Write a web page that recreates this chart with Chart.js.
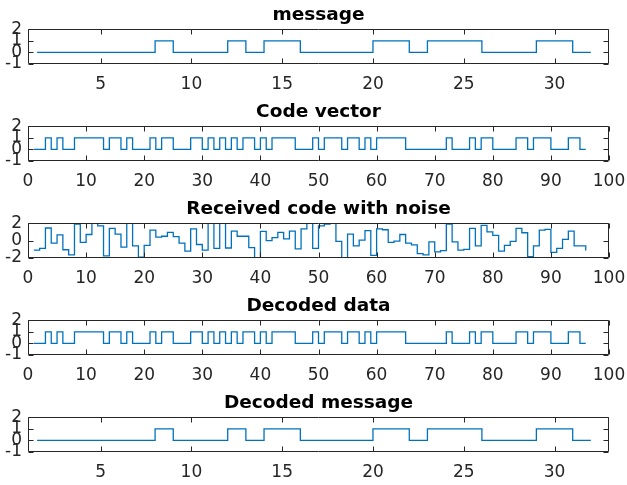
<!DOCTYPE html>
<html>
<head>
<meta charset="utf-8">
<script src="https://cdn.jsdelivr.net/npm/chart.js@4.4.1/dist/chart.umd.min.js"></script>
<style>
  body { margin: 0; background: #fff; }
  #wrap { position: relative; width: 627px; height: 485px; }
  #wrap canvas { position: absolute; left: 0; }
</style>
</head>
<body>
<div id="wrap">
  <canvas id="c0" width="627" height="97" style="top:0px"></canvas>
  <canvas id="c1" width="627" height="97" style="top:97px"></canvas>
  <canvas id="c2" width="627" height="97" style="top:194px"></canvas>
  <canvas id="c3" width="627" height="97" style="top:291px"></canvas>
  <canvas id="c4" width="627" height="97" style="top:388px"></canvas>
</div>
<script>
// message bits (stairs), x positions
const messageX = [1.5,2,3,4,5,6,7,8,9,10,11,12,13,14,15,16,17,18,19,20,21,22,23,24,25,26,27,28,29,30,31,32];
const messageBits = [0,0,0,0,0,0,0,1,0,0,0,1,0,1,1,0,0,0,0,1,1,0,1,1,1,0,0,0,1,1,0,0];

// code vector, 96 samples at x = 1..96
const codeBits = [0,0,1,0,1,0,0,1,1,1,1,1,0,1,1,0,1,0,0,0,1,0,1,1,0,0,0,1,1,0,1,0,
                  1,0,1,0,1,1,0,1,0,1,1,1,1,0,0,0,1,0,1,1,1,0,1,1,0,1,0,1,1,1,1,1,
                  0,0,0,0,0,0,0,1,0,0,0,1,0,1,1,0,0,0,0,1,1,0,1,1,1,0,0,0,1,1,0,0];

// received (noisy) code, values outside +-2 get clipped by the axes
const received = [-1.1,-0.9,1.45,-0.3,0.65,-1.05,-1.65,1.9,-0.2,0.7,2.6,1.7,-1.75,1.4,0.75,-0.75,
                  2.6,-0.6,-1.9,-0.55,1.2,0.4,0.5,0.95,0.45,-0.3,-1.2,1.35,-0.45,-1.1,2.6,-0.9,
                  2.6,-0.85,1.1,0.5,0.5,-0.8,-2.6,1.05,0.0,0.35,0.95,0.2,1.1,-0.95,1.35,2.6,
                  -0.9,1.7,1.9,2.2,-0.1,-2.6,0.75,-0.6,0.05,1.15,-1.7,1.35,1.25,-0.2,-0.05,0.7,
                  -0.3,-0.5,-1.5,-1.65,-0.15,-1.3,-1.15,1.9,-0.15,-1.1,-1.0,1.4,-0.6,1.75,1.0,0.6,
                  -1.2,-0.55,-0.1,1.4,0.9,-1.85,-0.6,1.2,1.3,-1.35,-0.9,0.15,1.1,-0.6,-0.6,-1.15];

// decoded output
const decodedBits = codeBits.slice();
const decodedMessage = messageBits.slice();

// tick labels
const msgXTicks = [5,10,15,20,25,30];
const codeXTicks = [0,10,20,30,40,50,60,70,80,90,100];
const bitYTicks = [-1,0,1,2];
const noiseYTicks = [-2,0,2];

const FONT = 'DejaVu Sans';
const AXCOL = '#262626';

// MATLAB style box with inward ticks
const boxPlugin = {
  id: 'matlabBox',
  afterDraw(chart) {
    const ctx = chart.ctx, a = chart.chartArea;
    const xs = chart.scales.x, ys = chart.scales.y;
    const L = Math.round(a.left) + 0.5, R = Math.round(a.right) - 0.5;
    const T = Math.round(a.top) + 0.5, B = Math.round(a.bottom) - 0.5;
    const tl = 5;
    ctx.save();
    ctx.strokeStyle = AXCOL;
    ctx.lineWidth = 1;
    ctx.beginPath();
    ctx.rect(L, T, R - L, B - T);
    xs.ticks.forEach(t => {
      const px = Math.round(xs.getPixelForValue(t.value)) + 0.5;
      ctx.moveTo(px, B); ctx.lineTo(px, B - tl);
      ctx.moveTo(px, T); ctx.lineTo(px, T + tl);
    });
    ys.ticks.forEach(t => {
      const py = Math.round(ys.getPixelForValue(t.value)) + 0.5;
      ctx.moveTo(L, py); ctx.lineTo(L + tl, py);
      ctx.moveTo(R, py); ctx.lineTo(R - tl, py);
    });
    ctx.stroke();
    ctx.restore();
  }
};

function makePlot(id, title, xs, ys, xMin, xMax, xTicks, yMin, yMax, yTicks) {
  const pts = ys.map((v, i) => ({ x: xs[i], y: v }));
  return new Chart(document.getElementById(id), {
    type: 'line',
    data: {
      datasets: [{
        data: pts,
        stepped: true,
        borderColor: '#0072BD',
        borderWidth: 1.3,
        pointRadius: 0,
        fill: false
      }]
    },
    options: {
      responsive: false,
      animation: false,
      layout: { padding: { left: 0, right: 18, top: 0, bottom: 0 } },
      plugins: {
        legend: { display: false },
        tooltip: { enabled: false },
        title: {
          display: true,
          text: title,
          fullSize: false,
          color: '#000',
          font: { family: FONT, size: 18.5, weight: 'bold' },
          padding: { top: 4, bottom: 3 }
        }
      },
      scales: {
        x: {
          type: 'linear',
          min: xMin, max: xMax,
          afterBuildTicks: s => { s.ticks = xTicks.map(v => ({ value: v })); },
          afterFit: s => { s.height = 33; s.paddingLeft = 0; s.paddingRight = 0; },
          grid: { display: false, drawTicks: false },
          border: { display: false },
          ticks: {
            autoSkip: false, maxRotation: 0, padding: 10,
            color: AXCOL, font: { family: FONT, size: 17 },
            callback: v => String(v)
          }
        },
        y: {
          type: 'linear',
          min: yMin, max: yMax,
          afterBuildTicks: s => { s.ticks = yTicks.map(v => ({ value: v })); },
          afterFit: s => { s.width = 28; s.paddingTop = 0; s.paddingBottom = 0; },
          grid: { display: false, drawTicks: false },
          border: { display: false },
          ticks: {
            autoSkip: false, padding: 6,
            color: AXCOL, font: { family: FONT, size: 17 },
            callback: v => String(v)
          }
        }
      }
    },
    plugins: [boxPlugin]
  });
}

const codeX = codeBits.map((v, i) => i + 1);

makePlot('c0', 'message', messageX, messageBits, 1, 33, msgXTicks, -1, 2, bitYTicks);
makePlot('c1', 'Code vector', codeX, codeBits, 0, 100, codeXTicks, -1, 2, bitYTicks);
makePlot('c2', 'Received code with noise', codeX, received, 0, 100, codeXTicks, -2, 2, noiseYTicks);
makePlot('c3', 'Decoded data', codeX, decodedBits, 0, 100, codeXTicks, -1, 2, bitYTicks);
makePlot('c4', 'Decoded message', messageX, decodedMessage, 1, 33, msgXTicks, -1, 2, bitYTicks);
</script>
</body>
</html>
